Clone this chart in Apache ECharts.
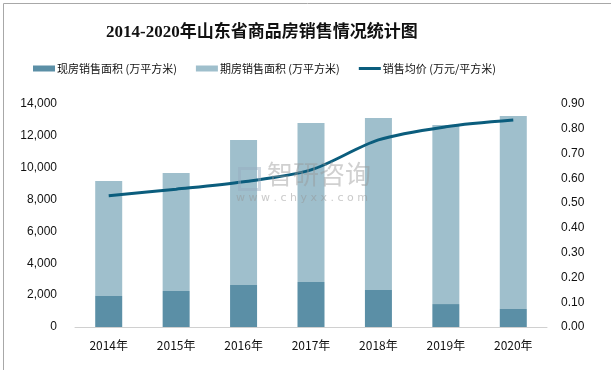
<!DOCTYPE html>
<html><head><meta charset="utf-8">
<script src="https://cdn.jsdelivr.net/npm/echarts@6/dist/echarts.min.js"></script>
<style>html,body{margin:0;padding:0;background:#fff}#c{width:611px;height:370px}</style>
</head><body><div id="c"></div>
<script>
const categories = ['2014年','2015年','2016年','2017年','2018年','2019年','2020年'];
const spotArea = [1950, 2260, 2640, 2830, 2320, 1440, 1130];
const totalArea = [9170, 9670, 11740, 12810, 13120, 12680, 13250];
const futureArea = totalArea.map((t, i) => t - spotArea[i]);
const avgPrice = [0.53, 0.556, 0.586, 0.634, 0.755, 0.808, 0.835];
const leftTicks = [0, 2000, 4000, 6000, 8000, 10000, 12000, 14000];
const rightTicks = [0, 0.1, 0.2, 0.3, 0.4, 0.5, 0.6, 0.7, 0.8, 0.9];

const chart = echarts.init(document.getElementById('c'));
const cjk = '"Noto Sans CJK SC", sans-serif';
chart.setOption({
  animation: false,
  title: {
    text: '2014-2020年山东省商品房销售情况统计图',
    left: 101, top: 19,
    textStyle: { fontFamily: '"Liberation Serif", "Noto Sans CJK SC", serif', fontWeight: 'bold', fontSize: 17, color: '#111' }
  },
  legend: {
    top: 58, left: 28, itemGap: 19, itemWidth: 22, itemHeight: 6,
    textStyle: { fontFamily: cjk, fontSize: 11, color: '#111', padding: [0, 0, 0, -3] },
    data: [
      { name: '现房销售面积 (万平方米)', icon: 'rect' },
      { name: '期房销售面积 (万平方米)', icon: 'rect' },
      { name: '销售均价 (万元/平方米)', icon: 'path://M0,0 L22,0 L22,3 L0,3 Z' }
    ]
  },
  grid: { left: 75, right: 64, top: 104, bottom: 43 },
  xAxis: {
    type: 'category', data: categories,
    axisLine: { lineStyle: { color: '#d0d0d0' } },
    axisTick: { show: false },
    axisLabel: { color: '#111', fontSize: 12, fontFamily: cjk, margin: 12 }
  },
  yAxis: [
    { type: 'value', min: 0, max: leftTicks[leftTicks.length - 1], interval: 2000,
      splitLine: { show: false }, axisLine: { show: false }, axisTick: { show: false },
      axisLabel: { color: '#111', fontSize: 12, fontFamily: '"Liberation Sans", sans-serif', margin: 18,
        formatter: v => v.toLocaleString('en-US') } },
    { type: 'value', min: 0, max: rightTicks[rightTicks.length - 1], interval: 0.1,
      splitLine: { show: false }, axisLine: { show: false }, axisTick: { show: false },
      axisLabel: { color: '#111', fontSize: 12, fontFamily: '"Liberation Sans", sans-serif', margin: 14,
        formatter: v => v.toFixed(2) } }
  ],
  series: [
    { name: '现房销售面积 (万平方米)', type: 'bar', stack: 'a', data: spotArea, barWidth: 27,
      itemStyle: { color: '#5b8fa6' } },
    { name: '期房销售面积 (万平方米)', type: 'bar', stack: 'a', data: futureArea, barWidth: 27,
      itemStyle: { color: '#9fbfcc' } },
    { name: '销售均价 (万元/平方米)', type: 'line', yAxisIndex: 1, data: avgPrice, smooth: 0.3,
      symbol: 'none', lineStyle: { color: '#0b5d7d', width: 3 }, itemStyle: { color: '#0b5d7d' } }
  ],
  graphic: [
    { type: 'rect', left: 1, top: 1, shape: { width: 608, height: 367 },
      style: { fill: 'none', stroke: '#a8a8a8', lineWidth: 1 }, silent: true },
    { type: 'text', left: 267, top: 161, z: 100,
      style: { text: '智研咨询', fontSize: 26, fontFamily: cjk, fill: 'rgba(150,150,150,0.45)' } },
    { type: 'text', left: 236, top: 193, z: 100,
      style: { text: 'w w w . c h y x x . c o m', fontSize: 11, fontFamily: '"DejaVu Sans", sans-serif', fill: 'rgba(150,150,150,0.5)' } },
    { type: 'rect', left: 237, top: 166, z: 100, shape: { width: 20, height: 21 },
      style: { fill: 'none', stroke: 'rgba(150,170,190,0.45)', lineWidth: 3 } }
  ]
});
</script></body></html>
